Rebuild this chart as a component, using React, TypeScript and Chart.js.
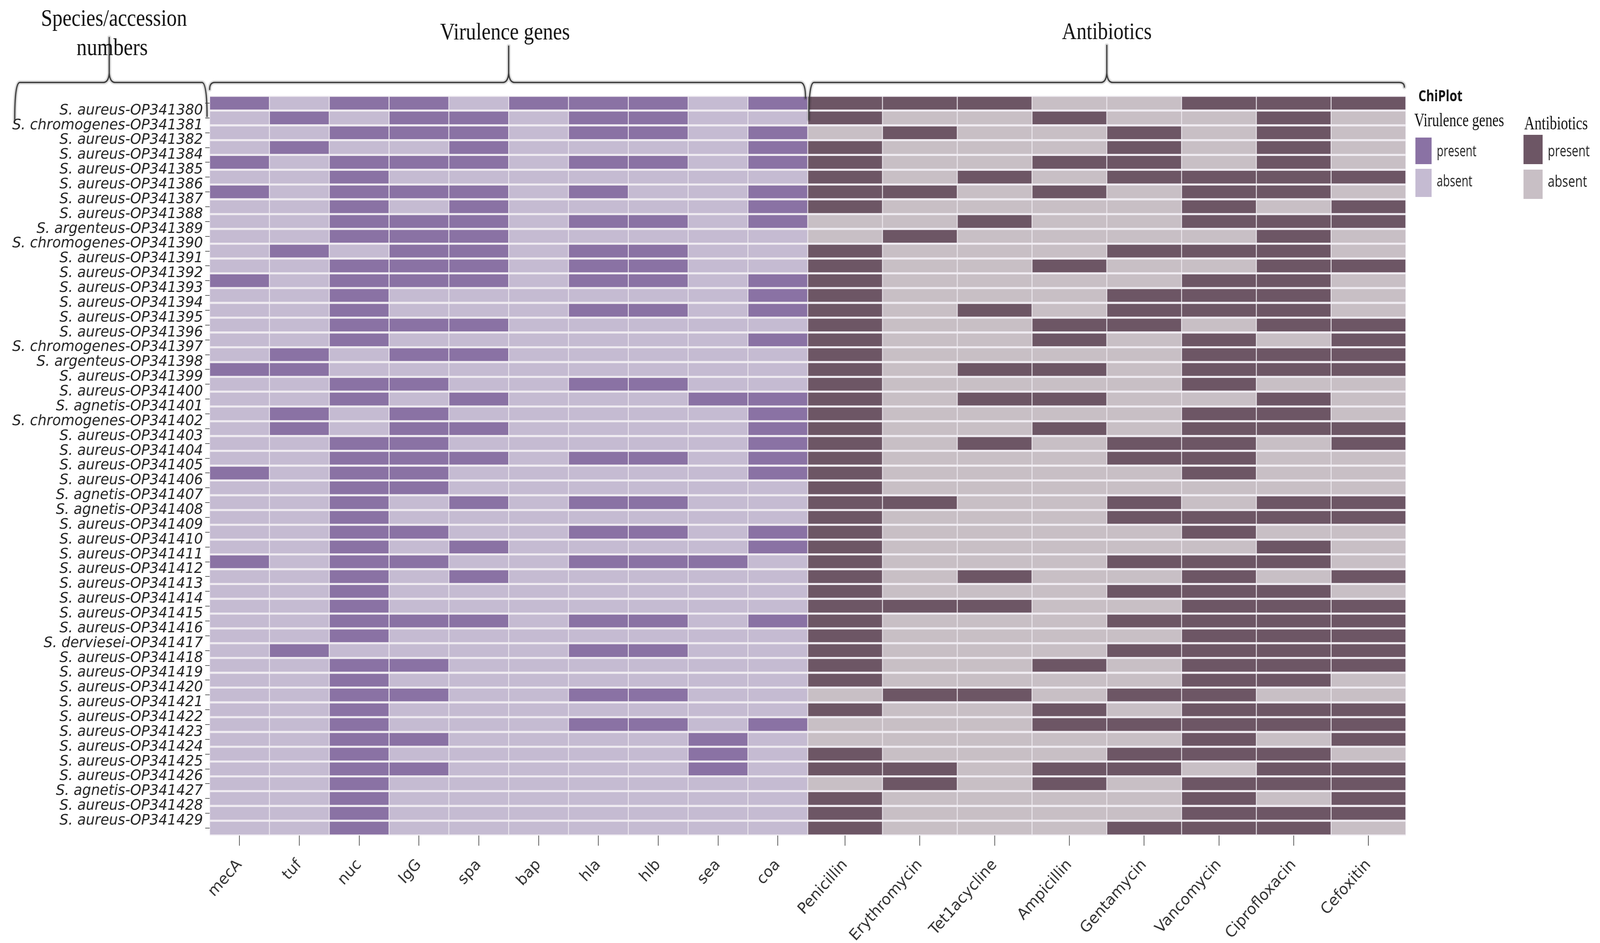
import React, { useEffect, useRef, useState } from 'react';
import { Chart, registerables } from 'chart.js';

Chart.register(...registerables);

// ---------------- DATA ----------------
const rowLabels = [
  'S. aureus-OP341380', 'S. chromogenes-OP341381', 'S. aureus-OP341382', 'S. aureus-OP341384',
  'S. aureus-OP341385', 'S. aureus-OP341386', 'S. aureus-OP341387', 'S. aureus-OP341388',
  'S. argenteus-OP341389', 'S. chromogenes-OP341390', 'S. aureus-OP341391', 'S. aureus-OP341392',
  'S. aureus-OP341393', 'S. aureus-OP341394', 'S. aureus-OP341395', 'S. aureus-OP341396',
  'S. chromogenes-OP341397', 'S. argenteus-OP341398', 'S. aureus-OP341399', 'S. aureus-OP341400',
  'S. agnetis-OP341401', 'S. chromogenes-OP341402', 'S. aureus-OP341403', 'S. aureus-OP341404',
  'S. aureus-OP341405', 'S. aureus-OP341406', 'S. agnetis-OP341407', 'S. agnetis-OP341408',
  'S. aureus-OP341409', 'S. aureus-OP341410', 'S. aureus-OP341411', 'S. aureus-OP341412',
  'S. aureus-OP341413', 'S. aureus-OP341414', 'S. aureus-OP341415', 'S. aureus-OP341416',
  'S. derviesei-OP341417', 'S. aureus-OP341418', 'S. aureus-OP341419', 'S. aureus-OP341420',
  'S. aureus-OP341421', 'S. aureus-OP341422', 'S. aureus-OP341423', 'S. aureus-OP341424',
  'S. aureus-OP341425', 'S. aureus-OP341426', 'S. agnetis-OP341427', 'S. aureus-OP341428',
  'S. aureus-OP341429',
];

const geneLabels = ['mecA', 'tuf', 'nuc', 'IgG', 'spa', 'bap', 'hla', 'hlb', 'sea', 'coa'];
const antibioticLabels = ['Penicillin', 'Erythromycin', 'Tet1acycline', 'Ampicillin', 'Gentamycin', 'Vancomycin', 'Ciprofloxacin', 'Cefoxitin'];

// 1 = present, 0 = absent (one row per heatmap row, top to bottom)
const genePresence = [
  [1, 0, 1, 1, 0, 1, 1, 1, 0, 1],
  [0, 1, 0, 1, 1, 0, 1, 1, 0, 0],
  [0, 0, 1, 1, 1, 0, 1, 1, 0, 1],
  [0, 1, 0, 0, 1, 0, 0, 0, 0, 1],
  [1, 0, 1, 1, 1, 0, 1, 1, 0, 1],
  [0, 0, 1, 0, 0, 0, 0, 0, 0, 0],
  [1, 0, 1, 1, 1, 0, 1, 0, 0, 1],
  [0, 0, 1, 0, 1, 0, 0, 0, 0, 1],
  [0, 0, 1, 1, 1, 0, 1, 1, 0, 1],
  [0, 0, 1, 1, 1, 0, 0, 0, 0, 0],
  [0, 1, 0, 1, 1, 0, 1, 1, 0, 0],
  [0, 0, 1, 1, 1, 0, 1, 1, 0, 0],
  [1, 0, 1, 1, 1, 0, 1, 1, 0, 1],
  [0, 0, 1, 0, 0, 0, 0, 0, 0, 1],
  [0, 0, 1, 0, 0, 0, 1, 1, 0, 1],
  [0, 0, 1, 1, 1, 0, 0, 0, 0, 0],
  [0, 0, 1, 0, 0, 0, 0, 0, 0, 1],
  [0, 1, 0, 1, 1, 0, 0, 0, 0, 0],
  [1, 1, 0, 0, 0, 0, 0, 0, 0, 0],
  [0, 0, 1, 1, 0, 0, 1, 1, 0, 0],
  [0, 0, 1, 0, 1, 0, 0, 0, 1, 1],
  [0, 1, 0, 1, 0, 0, 0, 0, 0, 1],
  [0, 1, 0, 1, 1, 0, 0, 0, 0, 1],
  [0, 0, 1, 1, 0, 0, 0, 0, 0, 1],
  [0, 0, 1, 1, 1, 0, 1, 1, 0, 1],
  [1, 0, 1, 1, 0, 0, 0, 0, 0, 1],
  [0, 0, 1, 1, 0, 0, 0, 0, 0, 0],
  [0, 0, 1, 0, 1, 0, 1, 1, 0, 0],
  [0, 0, 1, 0, 0, 0, 0, 0, 0, 0],
  [0, 0, 1, 1, 0, 0, 1, 1, 0, 1],
  [0, 0, 1, 0, 1, 0, 0, 0, 0, 1],
  [1, 0, 1, 1, 0, 0, 1, 1, 1, 0],
  [0, 0, 1, 0, 1, 0, 0, 0, 0, 0],
  [0, 0, 1, 0, 0, 0, 0, 0, 0, 0],
  [0, 0, 1, 0, 0, 0, 0, 0, 0, 0],
  [0, 0, 1, 1, 1, 0, 1, 1, 0, 1],
  [0, 0, 1, 0, 0, 0, 0, 0, 0, 0],
  [0, 1, 0, 0, 0, 0, 1, 1, 0, 0],
  [0, 0, 1, 1, 0, 0, 0, 0, 0, 0],
  [0, 0, 1, 0, 0, 0, 0, 0, 0, 0],
  [0, 0, 1, 1, 0, 0, 1, 1, 0, 0],
  [0, 0, 1, 0, 0, 0, 0, 0, 0, 0],
  [0, 0, 1, 0, 0, 0, 1, 1, 0, 1],
  [0, 0, 1, 1, 0, 0, 0, 0, 1, 0],
  [0, 0, 1, 0, 0, 0, 0, 0, 1, 0],
  [0, 0, 1, 1, 0, 0, 0, 0, 1, 0],
  [0, 0, 1, 0, 0, 0, 0, 0, 0, 0],
  [0, 0, 1, 0, 0, 0, 0, 0, 0, 0],
  [0, 0, 1, 0, 0, 0, 0, 0, 0, 0],
  [0, 0, 1, 0, 0, 0, 0, 0, 0, 0],
];

const antibioticPresence = [
  [1, 1, 1, 0, 0, 1, 1, 1],
  [1, 0, 0, 1, 0, 0, 1, 0],
  [0, 1, 0, 0, 1, 0, 1, 0],
  [1, 0, 0, 0, 1, 0, 1, 0],
  [1, 0, 0, 1, 1, 0, 1, 0],
  [1, 0, 1, 0, 1, 1, 1, 1],
  [1, 1, 0, 1, 0, 1, 1, 0],
  [1, 0, 0, 0, 0, 1, 0, 1],
  [0, 0, 1, 0, 0, 1, 1, 1],
  [0, 1, 0, 0, 0, 0, 1, 0],
  [1, 0, 0, 0, 1, 1, 1, 0],
  [1, 0, 0, 1, 0, 0, 1, 1],
  [1, 0, 0, 0, 0, 1, 1, 0],
  [1, 0, 0, 0, 1, 1, 1, 0],
  [1, 0, 1, 0, 1, 1, 1, 0],
  [1, 0, 0, 1, 1, 0, 1, 1],
  [1, 0, 0, 1, 0, 1, 0, 1],
  [1, 0, 0, 0, 0, 1, 1, 1],
  [1, 0, 1, 1, 0, 1, 1, 1],
  [1, 0, 0, 0, 0, 1, 0, 0],
  [1, 0, 1, 1, 0, 0, 1, 0],
  [1, 0, 0, 0, 0, 1, 1, 0],
  [1, 0, 0, 1, 0, 1, 1, 1],
  [1, 0, 1, 0, 1, 1, 0, 1],
  [1, 0, 0, 0, 1, 1, 0, 0],
  [1, 0, 0, 0, 0, 1, 0, 0],
  [1, 0, 0, 0, 0, 0, 0, 0],
  [1, 1, 0, 0, 1, 0, 1, 1],
  [1, 0, 0, 0, 1, 1, 1, 1],
  [1, 0, 0, 0, 0, 1, 0, 0],
  [1, 0, 0, 0, 0, 0, 1, 0],
  [1, 0, 0, 0, 1, 1, 1, 0],
  [1, 0, 1, 0, 0, 1, 0, 1],
  [1, 0, 0, 0, 1, 1, 1, 0],
  [1, 1, 1, 0, 0, 1, 1, 1],
  [1, 0, 0, 0, 1, 1, 1, 1],
  [1, 0, 0, 0, 0, 1, 1, 1],
  [1, 0, 0, 0, 1, 1, 1, 1],
  [1, 0, 0, 1, 0, 1, 1, 1],
  [1, 0, 0, 0, 0, 1, 1, 0],
  [0, 1, 1, 0, 1, 1, 0, 0],
  [1, 0, 0, 1, 0, 1, 1, 1],
  [0, 0, 0, 1, 1, 1, 1, 1],
  [0, 0, 0, 0, 0, 1, 0, 1],
  [1, 0, 0, 0, 1, 1, 1, 0],
  [1, 1, 0, 1, 1, 0, 1, 1],
  [0, 1, 0, 1, 0, 1, 1, 1],
  [1, 0, 0, 0, 0, 1, 0, 1],
  [1, 0, 0, 0, 0, 1, 1, 1],
  [1, 0, 0, 0, 1, 1, 1, 0],
];

const legendStates = ['present', 'absent'];
const headerTitles = ['Species/accession', 'numbers', 'Virulence genes', 'Antibiotics'];
const legendTitles = ['ChiPlot', 'Virulence genes', 'Antibiotics'];

// ---------------- STYLE / LAYOUT ----------------
const DESIGN_W = 4351;
const DESIGN_H = 2413;

const GENE_PRESENT = '#8a72a4';
const GENE_ABSENT = '#c5bbd2';
const AB_PRESENT = '#6d5665';
const AB_ABSENT = '#c8bfc5';
const GAP = '#efebf1';

const GENE_W = 1;
const AB_W = (geneLabels.length * GENE_W) / antibioticLabels.length;
const X_MAX = geneLabels.length * GENE_W + antibioticLabels.length * AB_W;
const geneStart = (c: number) => c * GENE_W;
const abStart = (c: number) => geneLabels.length * GENE_W + c * AB_W;

const rowIds = genePresence.map((_, i) => 'row' + i);
const allColumns = [...geneLabels, ...antibioticLabels];
const xTickValues = [
  ...geneLabels.map((_, i) => geneStart(i) + GENE_W / 2),
  ...antibioticLabels.map((_, i) => abStart(i) + AB_W / 2),
];

function fitText(ctx: CanvasRenderingContext2D, text: string, x: number, y: number, font: string, width: number, align: CanvasTextAlign) {
  ctx.save();
  ctx.font = font;
  const m = ctx.measureText(text).width || 1;
  const sx = width / m;
  ctx.translate(x, y);
  ctx.scale(sx, 1);
  ctx.textAlign = align;
  ctx.textBaseline = 'alphabetic';
  ctx.fillText(text, 0, 0);
  ctx.restore();
}

function brace(ctx: CanvasRenderingContext2D, x1: number, x2: number, xc: number, yLine: number, yTop: number, dropL: number, dropR: number) {
  const path = () => {
    ctx.beginPath();
    ctx.moveTo(x1, yLine + dropL);
    ctx.quadraticCurveTo(x1, yLine, x1 + 14, yLine);
    ctx.lineTo(xc - 16, yLine);
    ctx.quadraticCurveTo(xc - 2, yLine, xc, yLine - 24);
    ctx.lineTo(xc, yTop);
    ctx.moveTo(xc, yLine - 24);
    ctx.quadraticCurveTo(xc + 2, yLine, xc + 16, yLine);
    ctx.lineTo(x2 - 14, yLine);
    ctx.quadraticCurveTo(x2, yLine, x2, yLine + dropR);
  };
  ctx.save();
  ctx.lineCap = 'round';
  ctx.strokeStyle = 'rgba(0,0,0,0.13)';
  ctx.lineWidth = 11;
  path();
  ctx.stroke();
  ctx.strokeStyle = '#3c3c3c';
  ctx.lineWidth = 3.5;
  path();
  ctx.stroke();
  ctx.restore();
}

const annotatePlugin = {
  id: 'annotate',
  afterDraw(chart: any) {
    const ctx: CanvasRenderingContext2D = chart.ctx;
    const xs = chart.scales.x;
    const g0 = xs.getPixelForValue(0);
    const g1 = xs.getPixelForValue(geneLabels.length * GENE_W);
    const a1 = xs.getPixelForValue(X_MAX);
    const yLine = 211;

    brace(ctx, 40, 563, 297, yLine, 96, 95, 87);
    brace(ctx, g0, g1 - 6, (g0 + g1) / 2, yLine, 118, 18, 40);
    brace(ctx, g1 + 3, a1 - 4, (g1 + a1) / 2, yLine, 116, 95, 12);

    ctx.fillStyle = '#111';
    const serif = '"Liberation Serif", "Times New Roman", serif';
    fitText(ctx, headerTitles[0], 310, 66, `62px ${serif}`, 397, 'center');
    fitText(ctx, headerTitles[1], 305, 141, `62px ${serif}`, 194, 'center');
    fitText(ctx, headerTitles[2], (g0 + g1) / 2 - 10, 101, `62px ${serif}`, 353, 'center');
    fitText(ctx, headerTitles[3], (g1 + a1) / 2, 100, `62px ${serif}`, 244, 'center');

    const sans = '"Open Sans", "Liberation Sans", sans-serif';
    fitText(ctx, legendTitles[0], 3857, 259, `bold 40px ${sans}`, 120, 'left');
    fitText(ctx, legendTitles[1], 3846, 323, `48px ${serif}`, 244, 'left');
    fitText(ctx, legendTitles[2], 4145, 331, `48px ${serif}`, 173, 'left');

    ctx.fillStyle = GENE_PRESENT;
    ctx.fillRect(3849, 352, 44, 68);
    ctx.fillStyle = GENE_ABSENT;
    ctx.fillRect(3849, 432, 44, 72);
    ctx.fillStyle = AB_PRESENT;
    ctx.fillRect(4143, 345, 52, 75);
    ctx.fillStyle = AB_ABSENT;
    ctx.fillRect(4143, 434, 52, 75);

    ctx.fillStyle = '#222';
    fitText(ctx, legendStates[0], 3907, 400, `40px ${sans}`, 108, 'left');
    fitText(ctx, legendStates[1], 3907, 477, `40px ${sans}`, 97, 'left');
    fitText(ctx, legendStates[0], 4209, 400, `40px ${sans}`, 114, 'left');
    fitText(ctx, legendStates[1], 4209, 478, `40px ${sans}`, 107, 'left');
  },
};

export default function App() {
  const canvasRef = useRef<HTMLCanvasElement | null>(null);
  const [view, setView] = useState({ w: window.innerWidth || DESIGN_W, h: window.innerHeight || DESIGN_H });

  useEffect(() => {
    const onResize = () => setView({ w: window.innerWidth || DESIGN_W, h: window.innerHeight || DESIGN_H });
    window.addEventListener('resize', onResize);
    return () => window.removeEventListener('resize', onResize);
  }, []);

  useEffect(() => {
    if (!canvasRef.current) return;

    const datasets: any[] = [];
    geneLabels.forEach((name, c) => {
      datasets.push({
        label: name,
        data: genePresence.map(() => [geneStart(c), geneStart(c) + GENE_W]),
        backgroundColor: genePresence.map((row) => (row[c] ? GENE_PRESENT : GENE_ABSENT)),
        borderColor: GAP,
        borderWidth: { top: 3, bottom: 3, left: 1.5, right: 1.5 },
        borderSkipped: false,
        barPercentage: 1,
        categoryPercentage: 1,
        grouped: false,
      });
    });
    antibioticLabels.forEach((name, c) => {
      datasets.push({
        label: name,
        data: antibioticPresence.map(() => [abStart(c), abStart(c) + AB_W]),
        backgroundColor: antibioticPresence.map((row) => (row[c] ? AB_PRESENT : AB_ABSENT)),
        borderColor: GAP,
        borderWidth: { top: 3, bottom: 3, left: 1.5, right: 1.5 },
        borderSkipped: false,
        barPercentage: 1,
        categoryPercentage: 1,
        grouped: false,
      });
    });

    const chart = new Chart(canvasRef.current, {
      type: 'bar',
      data: { labels: rowIds, datasets },
      plugins: [annotatePlugin],
      options: {
        indexAxis: 'y',
        animation: false,
        responsive: true,
        maintainAspectRatio: false,
        devicePixelRatio: 1,
        layout: { padding: { top: 245, right: 528, left: 0, bottom: 0 } },
        plugins: { legend: { display: false }, tooltip: { enabled: false } },
        scales: {
          x: {
            type: 'linear',
            position: 'bottom',
            min: 0,
            max: X_MAX,
            grid: { drawOnChartArea: false, drawTicks: true, tickLength: 26, color: '#555', lineWidth: 2 },
            border: { display: false },
            afterBuildTicks: (s: any) => {
              s.ticks = xTickValues.map((v) => ({ value: v }));
            },
            afterFit: (s: any) => {
              s.height = 275;
            },
            ticks: {
              autoSkip: false,
              maxRotation: 47,
              minRotation: 47,
              padding: 26,
              color: '#333',
              font: { family: '"DejaVu Sans", sans-serif', size: 40 },
              callback: (_v: any, i: number) => allColumns[i],
            },
          },
          y: {
            type: 'category',
            display: false,
            offset: true,
            grid: { display: false },
          },
          yl: {
            type: 'linear',
            position: 'left',
            reverse: true,
            min: 0,
            max: rowIds.length,
            grid: { drawOnChartArea: false, drawTicks: true, tickLength: 12, color: '#666', lineWidth: 2 },
            border: { display: false },
            afterBuildTicks: (s: any) => {
              const n = rowLabels.length;
              const span = rowIds.length - 1;
              s.ticks = rowLabels.map((_, j) => ({ value: 0.5 + (j * span) / (n - 1) }));
            },
            afterFit: (s: any) => {
              s.width = 570;
            },
            ticks: {
              autoSkip: false,
              padding: 6,
              color: '#222',
              font: { family: '"DejaVu Sans", sans-serif', size: 38, style: 'italic' },
              callback: (_v: any, i: number) => rowLabels[i],
            },
          },
        },
      } as any,
    });

    return () => {
      chart.destroy();
    };
  }, []);

  const kx = view.w / DESIGN_W;
  const ky = view.h / DESIGN_H;

  return (
    <div style={{ position: 'fixed', left: 0, top: 0, width: view.w + 'px', height: view.h + 'px', overflow: 'hidden', background: '#ffffff' }}>
      <div
        style={{
          position: 'absolute',
          left: 0,
          top: 0,
          width: DESIGN_W + 'px',
          height: DESIGN_H + 'px',
          transform: `scale(${kx}, ${ky})`,
          transformOrigin: '0 0',
        }}
      >
        <canvas ref={canvasRef} />
      </div>
    </div>
  );
}
